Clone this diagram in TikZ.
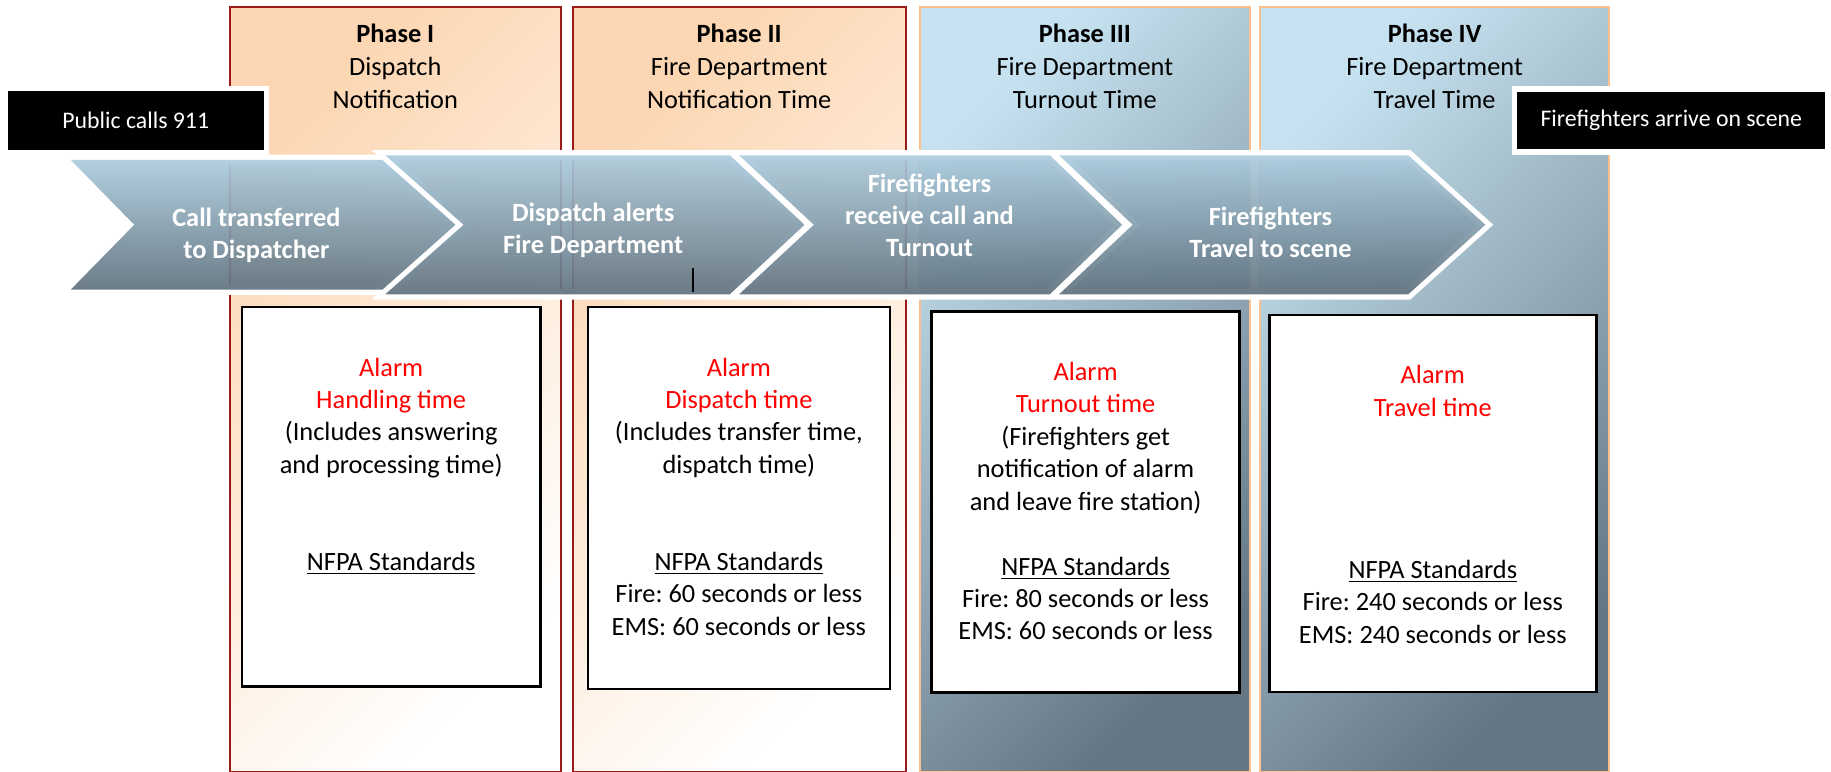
\documentclass[tikz,border=0pt]{standalone}
\usepackage{fontspec}
\setmainfont{Carlito}
\usepackage{tikz}
\usetikzlibrary{positioning}
\frenchspacing
\definecolor{peach}{RGB}{252,214,178}
\definecolor{phasered}{RGB}{155,25,25}
\definecolor{phaseorange}{RGB}{250,192,144}
\definecolor{steeltop}{RGB}{198,226,240}
\definecolor{steelbot}{RGB}{100,118,132}
\definecolor{arrowtop}{RGB}{172,204,222}
\definecolor{arrowbot}{RGB}{95,113,126}
\definecolor{alarmred}{RGB}{255,0,0}
\tikzset{
  warmphase/.style = {draw=phasered, line width=1pt, top color=peach,
    bottom color=white, shading angle=45},
  coolphase/.style = {draw=phaseorange, line width=1.2pt, top color=steeltop,
    bottom color=steelbot, shading angle=45},
  chevron/.style = {preaction={draw=white, line width=0.18cm},
    top color=arrowtop, bottom color=arrowbot, fill opacity=0.92},
  phasehead/.style = {align=center, inner sep=0pt,
    font=\fontsize{12.85}{16}\selectfont},
  steptext/.style = {align=center, inner sep=0pt, text=white,
    font=\fontsize{12.85}{15.6}\selectfont\bfseries},
  eventbox/.style = {fill=black, text=white, inner sep=0pt,
    preaction={draw=white, line width=0.18cm}, font=\fontsize{11.6}{14}\selectfont},
  infobox/.style = {draw=black, line width=1.2pt, fill=white},
  infotext/.style = {align=center, inner sep=0pt, anchor=north,
    font=\fontsize{12.85}{15.8}\selectfont},
}
\newcommand{\alarm}[1]{\textcolor{alarmred}{#1}}

\begin{document}
\begin{tikzpicture}[x=0.02cm, y=-0.02cm]
\useasboundingbox (0,0) rectangle (1568,661);
% phase columns
\path[warmphase] (196.6,6) rectangle (480.4,661);
\path[warmphase] (490.3,6) rectangle (776,661);
\path[coolphase] (788,6) rectangle (1070.5,661);
\path[coolphase] (1079,6) rectangle (1378,661);

\node[phasehead] (head1) at (338.5,57) {\textbf{Phase I}\\Dispatch\\Notification};
\node[phasehead] (head2) at (633,57) {\textbf{Phase II}\\Fire Department\\Notification Time};
\node[phasehead] (head3) at (929,57) {\textbf{Phase III}\\Fire Department\\Turnout Time};
\node[phasehead] (head4) at (1228.5,57) {\textbf{Phase IV}\\Fire Department\\Travel Time};

% process chevrons
\path[chevron] (60.6,137) -- (328,137) -- (391,192.5) -- (328,248) -- (60.6,248) -- (115,192.5) -- cycle;
\path[chevron] (330,133) -- (625,133) -- (689,192.5) -- (625,252) -- (330,252) -- (397,192.5) -- cycle;
\path[chevron] (633,133) -- (899,133) -- (961,192.5) -- (899,252) -- (633,252) -- (697,192.5) -- cycle;
\path[chevron] (907,133) -- (1206,133) -- (1272,192.5) -- (1206,252) -- (907,252) -- (970,192.5) -- cycle;
\draw[line width=0.8pt] (593.6,229.6) -- (593.6,249.8);

\node[steptext] (step1) at (219.6,201.7) {Call transferred\\to Dispatcher};
\node[steptext] (step2) at (508,197) {Dispatch alerts\\Fire Department};
\node[steptext] (step3) at (796,184) {Firefighters\\receive call and\\Turnout};
\node[steptext] (step4) at (1088,199) {Firefighters\\Travel to scene};

% start and end events
\node[eventbox, minimum width=4.39cm, minimum height=1.006cm] (calls) at (116.3,102.9) {Public calls 911};
\node[eventbox, minimum width=5.27cm, minimum height=0.99cm] (arrive) at (1431.2,103.2) {Firefighters arrive on scene};

% alarm boxes
\node[infobox, minimum width=5.12cm, minimum height=6.5cm] (box1) at (335,425.5) {};
\node[infobox, minimum width=5.17cm, minimum height=6.54cm] (box2) at (632.75,426.5) {};
\node[infobox, minimum width=5.28cm, minimum height=6.52cm] (box3) at (929.65,429.9) {};
\node[infobox, minimum width=5.6cm, minimum height=6.46cm] (box4) at (1227,431.3) {};

\node[infotext, yshift=-0.88cm] (info1) at (box1.north) {\alarm{Alarm}\\\alarm{Handling time}\\(Includes answering\\and processing time)\\[2\baselineskip]\underline{NFPA Standards}};
\node[infotext, yshift=-0.88cm] (info2) at (box2.north) {\alarm{Alarm}\\\alarm{Dispatch time}\\(Includes transfer time,\\dispatch time)\\[2\baselineskip]\underline{NFPA Standards}\\Fire: 60 seconds or less\\EMS: 60 seconds or less};
\node[infotext, yshift=-0.88cm] (info3) at (box3.north) {\alarm{Alarm}\\\alarm{Turnout time}\\(Firefighters get\\notification of alarm\\and leave fire station)\\[\baselineskip]\underline{NFPA Standards}\\Fire: 80 seconds or less\\EMS: 60 seconds or less};
\node[infotext, yshift=-0.88cm] (info4) at (box4.north) {\alarm{Alarm}\\\alarm{Travel time}\\[4\baselineskip]\underline{NFPA Standards}\\Fire: 240 seconds or less\\EMS: 240 seconds or less};
\end{tikzpicture}
\end{document}
